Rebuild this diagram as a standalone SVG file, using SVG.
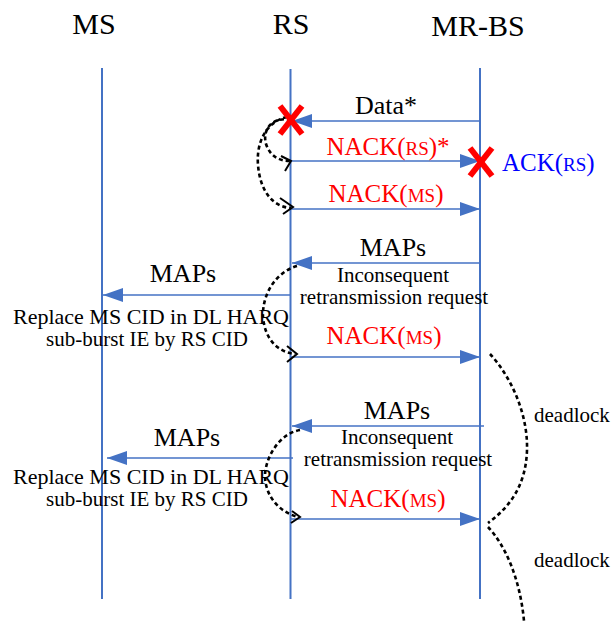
<svg xmlns="http://www.w3.org/2000/svg" width="612" height="621" viewBox="0 0 612 621">
<style>
.hdr{font-family:"Liberation Serif","Times New Roman",serif;font-size:30px;fill:#000;text-anchor:middle}
.lbl{font-family:"Liberation Serif","Times New Roman",serif;font-size:26px;fill:#000;text-anchor:middle}
.sm{font-family:"Liberation Serif","Times New Roman",serif;font-size:21px;fill:#000;text-anchor:middle}
.rep{font-family:"Liberation Serif","Times New Roman",serif;font-size:21px;fill:#000;text-anchor:middle}
.red{font-family:"Liberation Serif","Times New Roman",serif;font-size:25px;fill:#FF0000;text-anchor:middle}
.blue{font-family:"Liberation Serif","Times New Roman",serif;font-size:25px;fill:#0000FF}
.s{font-size:19px}
.life{stroke:#4472C4;stroke-width:2;fill:none}
.msg{stroke:#4472C4;stroke-width:1.6;fill:none;marker-end:url(#ah)}
.dot{stroke:#000;stroke-width:2.6;fill:none;stroke-dasharray:4 3}
.chev{stroke:#000;stroke-width:2;fill:none}
.x{stroke:#FF0000;stroke-width:6;stroke-linecap:butt}
</style>
<defs>
<marker id="ah" markerUnits="userSpaceOnUse" markerWidth="20" markerHeight="14" refX="20" refY="7" orient="auto">
<path d="M0,0 L20,7 L0,14 Z" fill="#4472C4"/>
</marker>
</defs>
<rect width="612" height="621" fill="#fff"/>
<g id="MS">
<text class="hdr" x="94" y="34">MS</text>
<line class="life" x1="102" y1="68" x2="102" y2="599"/>
</g>
<g id="RS">
<text class="hdr" x="291" y="34">RS</text>
<line class="life" x1="290.5" y1="69" x2="290.5" y2="599"/>
</g>
<g id="MR-BS">
<text class="hdr" x="478" y="36">MR-BS</text>
<line class="life" x1="480" y1="68" x2="480" y2="599"/>
</g>
<g id="connectors">
<line class="msg" x1="480" y1="121" x2="292" y2="121"/>
<text class="lbl" x="386" y="114">Data*</text>
<line class="msg" x1="291" y1="161" x2="480" y2="161"/>
<text class="red" x="388" y="155">NACK(<tspan class="s">RS</tspan>)*</text>
<text class="blue" x="502" y="171">ACK(<tspan class="s">RS</tspan>)</text>
<line class="msg" x1="291" y1="209" x2="480" y2="209"/>
<text class="red" x="386" y="202">NACK(<tspan class="s">MS</tspan>)</text>
<line class="msg" x1="480" y1="263" x2="292" y2="263"/>
<text class="lbl" x="393" y="256">MAPs</text>
<text class="sm" x="393" y="282">Inconsequent</text>
<text class="sm" x="394" y="304">retransmission request</text>
<line class="msg" x1="290" y1="295" x2="103" y2="295"/>
<text class="lbl" x="183" y="282">MAPs</text>
<text class="rep" x="151" y="324" textLength="276" lengthAdjust="spacingAndGlyphs">Replace MS CID in DL HARQ</text>
<text class="rep" x="147" y="346">sub-burst IE  by RS CID</text>
<line class="msg" x1="291" y1="357" x2="480" y2="357"/>
<text class="red" x="384" y="344">NACK(<tspan class="s">MS</tspan>)</text>
<line class="msg" x1="484" y1="426" x2="292" y2="426"/>
<text class="lbl" x="397" y="419">MAPs</text>
<text class="sm" x="397" y="444">Inconsequent</text>
<text class="sm" x="398" y="466">retransmission request</text>
<line class="msg" x1="293" y1="458" x2="107" y2="458"/>
<text class="lbl" x="187" y="446">MAPs</text>
<text class="rep" x="151" y="484" textLength="276" lengthAdjust="spacingAndGlyphs">Replace MS CID in DL HARQ</text>
<text class="rep" x="147" y="506">sub-burst IE  by RS CID</text>
<line class="msg" x1="291" y1="519" x2="480" y2="519"/>
<text class="red" x="388" y="507">NACK(<tspan class="s">MS</tspan>)</text>
<path class="dot" d="M291,120 C272,116 262,130 266,144 C270,156 279,161 290,161"/>
<polyline class="chev" points="281,156 291,161 285,171"/>
<path class="dot" d="M287,117 C268,121 256,140 258,165 C260,190 272,207 291,208"/>
<polyline class="chev" points="280,198 293,207 283,214"/>
<path class="dot" d="M297,266 C276,272 262,294 263,317 C265,340 278,352 295,354"/>
<polyline class="chev" points="287,346 297,354 287,362"/>
<path class="dot" d="M300,430 C281,433 266,455 265,475 C265,496 279,512 298,517"/>
<polyline class="chev" points="292,511 300,517 291,523"/>
<path class="dot" d="M490,354 C512,378 528,415 527,450 C526,485 510,507 488,523"/>
<path class="dot" d="M488,527 C505,545 520,578 524,621"/>
<text class="sm" x="534" y="422" style="text-anchor:start">deadlock</text>
<text class="sm" x="534" y="567" style="text-anchor:start">deadlock</text>
<g id="x1"><line class="x" x1="280" y1="106" x2="302" y2="134"/><line class="x" x1="302" y1="106" x2="280" y2="134"/></g>
<g id="x2"><line class="x" x1="470" y1="148" x2="492" y2="176"/><line class="x" x1="492" y1="148" x2="470" y2="176"/></g>
</g>
</svg>
